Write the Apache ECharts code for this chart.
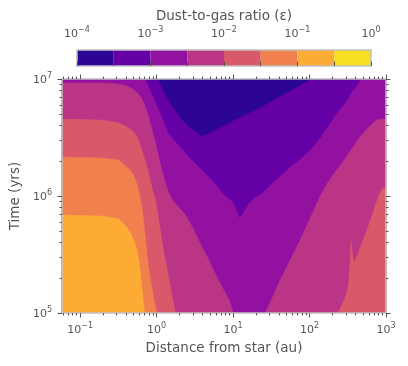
<!DOCTYPE html>
<html>
<head>
<meta charset="utf-8">
<script src="https://cdn.jsdelivr.net/npm/echarts@6/dist/echarts.min.js"></script>
<style>
html, body { margin: 0; padding: 0; background: #fff; }
#chart { width: 408px; height: 366px; }
</style>
</head>
<body>
<div id="chart"></div>
<script>
// contour levels (dust-to-gas ratio) and the plasma colour of each band
var levels = [1e-4, 3.162e-4, 1e-3, 3.162e-3, 1e-2, 3.162e-2, 0.1, 0.3162, 1];
var levelColors = ['#2d0595', '#6500a7', '#9311a1', '#bb3587', '#d9596a', '#f0804e', '#fcab34', '#f7de23'];
var cbarLabels = [1e-4, 1e-3, 1e-2, 1e-1, 1];

var xMajor = [0.1, 1, 10, 100, 1000];
var xMinor = [0.06, 0.07, 0.08, 0.09,
    0.2, 0.3, 0.4, 0.5, 0.6, 0.7, 0.8, 0.9,
    2, 3, 4, 5, 6, 7, 8, 9,
    20, 30, 40, 50, 60, 70, 80, 90,
    200, 300, 400, 500, 600, 700, 800, 900];
var yMajor = [1e5, 1e6, 1e7];
var yMinor = [2e5, 3e5, 4e5, 5e5, 6e5, 7e5, 8e5, 9e5,
    2e6, 3e6, 4e6, 5e6, 6e6, 7e6, 8e6, 9e6];

// contour outlines, points are [distance (au), time (yrs)]
var bandBase = [[0.058, 1e5], [1000, 1e5], [1000, 1e7], [0.058, 1e7]];
var innerGe3e3 = [[0.058, 9.25e6], [0.186, 9.25e6], [0.32, 9.06e6], [0.406, 8.71e6], [0.487, 8.22e6],
    [0.582, 7.45e6], [0.657, 6.62e6], [0.719, 5.65e6], [0.787, 4.73e6], [0.861, 3.81e6], [0.97, 2.84e6],
    [1.06, 2.2e6], [1.16, 1.7e6], [1.31, 1.29e6], [1.43, 1.08e6], [1.62, 9.25e5], [1.94, 8.05e5],
    [2.39, 6.88e5], [3.04, 5.22e5], [3.75, 3.89e5], [4.62, 3.01e5], [5.53, 2.33e5], [6.63, 1.84e5],
    [7.94, 1.48e5], [8.95, 1.27e5], [10.1, 1e5], [0.058, 1e5]];
var innerGe1e2 = [[0.058, 4.55e6], [0.186, 4.46e6], [0.237, 4.38e6], [0.32, 4.21e6], [0.394, 3.96e6],
    [0.472, 3.66e6], [0.532, 3.39e6], [0.582, 3.01e6], [0.637, 2.52e6], [0.719, 1.95e6], [0.811, 1.45e6],
    [0.887, 1.12e6], [0.97, 9.25e5], [1.09, 5.65e5], [1.23, 3.45e5], [1.39, 2.24e5], [1.57, 1.48e5],
    [1.77, 1e5], [0.058, 1e5]];
var innerGe3e2 = [[0.058, 2.15e6], [0.186, 2.11e6], [0.237, 2.07e6], [0.32, 2.03e6], [0.394, 1.8e6],
    [0.458, 1.64e6], [0.517, 1.43e6], [0.565, 1.22e6], [0.6, 1.02e6], [0.637, 8.38e5], [0.677, 6.23e5],
    [0.719, 4.21e5], [0.763, 2.84e5], [0.835, 1.92e5], [0.914, 1.37e5], [1.0, 1e5], [0.058, 1e5]];
var innerGe1e1 = [[0.058, 6.88e5], [0.186, 6.75e5], [0.237, 6.62e5], [0.32, 6.36e5], [0.394, 5.55e5],
    [0.458, 4.83e5], [0.517, 4.05e5], [0.565, 3.26e5], [0.6, 2.52e5], [0.637, 1.73e5], [0.677, 1.22e5],
    [0.698, 1e5], [0.058, 1e5]];
var outerGe3e3 = [[26.4, 1e5], [32.5, 1.34e5], [39, 1.77e5], [54.2, 2.73e5], [75.4, 4.21e5], [105, 6.75e5],
    [142, 1.04e6], [175, 1.32e6], [216, 1.6e6], [291, 2.07e6], [370, 2.62e6], [471, 3.26e6], [564, 3.74e6],
    [655, 4.12e6], [761, 4.46e6], [857, 4.55e6], [939, 4.55e6], [1000, 4.46e6], [1000, 1e5]];
var outerGe1e2 = [[236, 1e5], [266, 1.17e5], [291, 1.34e5], [318, 1.64e5], [328, 1.95e5], [338, 2.57e5],
    [343, 3.32e5], [349, 4.12e5], [359, 3.45e5], [370, 2.95e5], [381, 2.73e5], [418, 3.07e5], [485, 3.96e5],
    [564, 5.12e5], [655, 6.75e5], [738, 8.55e5], [808, 1.02e6], [857, 1.1e6], [912, 1.17e6], [1000, 1.19e6],
    [1000, 1e5]];
var midLe1e3 = [[0.719, 1e7], [0.787, 8.71e6], [0.887, 7.29e6], [1.0, 6.11e6], [1.13, 5.12e6], [1.27, 4.21e6],
    [1.43, 3.45e6], [1.94, 2.73e6], [2.61, 2.2e6], [3.53, 1.8e6], [4.76, 1.48e6], [6.06, 1.24e6],
    [7.48, 1.04e6], [8.68, 9.62e5], [10.1, 8.89e5], [11.0, 7.75e5], [12.1, 6.62e5], [12.8, 6.75e5],
    [14.0, 7.59e5], [15.8, 8.55e5], [18.9, 9.62e5], [23.4, 1.04e6], [30.6, 1.24e6], [39, 1.43e6],
    [55.8, 1.77e6], [75.4, 2.07e6], [105, 2.52e6], [137, 3.13e6], [175, 3.96e6], [222, 5.02e6],
    [291, 6.24e6], [370, 8.05e6], [430, 9.06e6], [471, 1e7]];
var midLe3e4 = [[1.03, 1e7], [1.13, 9.06e6], [1.27, 7.74e6], [1.43, 6.62e6], [1.67, 5.65e6], [1.94, 4.92e6],
    [2.25, 4.38e6], [2.61, 3.96e6], [3.04, 3.66e6], [3.53, 3.39e6], [3.86, 3.26e6], [4.23, 3.32e6],
    [5.88, 3.66e6], [9.22, 4.29e6], [13.2, 4.83e6], [19.5, 5.43e6], [28.8, 6.24e6], [41.4, 7.16e6],
    [55.8, 7.89e6], [75.4, 8.89e6], [105, 1e7]];

// drawing order: outline, colour band index
var regions = [
    [bandBase, 2], [innerGe3e3, 3], [innerGe1e2, 4], [innerGe3e2, 5], [innerGe1e1, 6],
    [outerGe3e3, 3], [outerGe1e2, 4], [midLe1e3, 1], [midLe3e4, 0]
];

var chart = echarts.init(document.getElementById('chart'));

var textGray = '#555555';
var rich = {
    b: { fontSize: 11, color: textGray, lineHeight: 14, verticalAlign: 'bottom' },
    s: { fontSize: 8, color: textGray, lineHeight: 8, verticalAlign: 'top' }
};
function pow10(v) {
    var e = Math.round(Math.log10(v));
    return '{b|10}{s|' + (e < 0 ? '\u2212' + (-e) : e) + '}';
}

function tickAxis(type, pos, ticks, len, withLine, withLabels, extra) {
    var ax = {
        type: 'log', gridIndex: 0, position: pos, z: 10,
        axisLine: { show: withLine, lineStyle: { color: '#c0c0c0', width: 1.5 } },
        axisTick: { show: true, length: len, customValues: ticks, lineStyle: { color: '#555', width: 1 } },
        axisLabel: withLabels ? { customValues: withLabels, formatter: pow10, rich: rich, margin: type === 'x' ? 9 : 10 } : { show: false },
        splitLine: { show: false }
    };
    if (type === 'x') { ax.min = 0.058; ax.max = 1000; } else { ax.min = 1e5; ax.max = 1e7; }
    return Object.assign(ax, extra || {});
}

var nameStyle = { fontSize: 13.5, color: textGray };

chart.setOption({
    animation: false,
    textStyle: { fontFamily: 'DejaVu Sans' },
    grid: [
        { left: 61, right: 22, top: 79, bottom: 53 },
        { left: 77, right: 37, top: 50, height: 16 }
    ],
    xAxis: [
        tickAxis('x', 'bottom', xMajor, 4.5, true, xMajor, {
            name: 'Distance from star (au)', nameLocation: 'middle', nameGap: 28, nameTextStyle: nameStyle
        }),
        tickAxis('x', 'bottom', xMinor, 2.5, false, null),
        tickAxis('x', 'top', xMajor, 4.5, true, null),
        tickAxis('x', 'top', xMinor, 2.5, false, null),
        {
            type: 'log', gridIndex: 1, position: 'top', min: 1e-4, max: 1, z: 10,
            axisLine: { show: false },
            axisTick: { show: true, length: 4.5, customValues: levels, lineStyle: { color: '#555', width: 1 } },
            axisLabel: { customValues: cbarLabels, formatter: pow10, rich: rich, margin: 10 },
            splitLine: { show: false },
            name: 'Dust-to-gas ratio (\u03b5)', nameLocation: 'middle', nameGap: 27, nameTextStyle: nameStyle
        }
    ],
    yAxis: [
        tickAxis('y', 'left', yMajor, 4.5, true, yMajor, {
            name: 'Time (yrs)', nameLocation: 'middle', nameGap: 36, nameTextStyle: nameStyle
        }),
        tickAxis('y', 'left', yMinor, 2.5, false, null),
        tickAxis('y', 'right', yMajor, 4.5, true, null),
        tickAxis('y', 'right', yMinor, 2.5, false, null),
        { type: 'value', gridIndex: 1, min: 0, max: 1, show: false }
    ],
    series: [
        {
            type: 'custom',
            xAxisIndex: 0, yAxisIndex: 0,
            clip: true,
            data: regions.map(function (r, i) { return [r[0][0][0], r[0][0][1], i]; }),
            renderItem: function (params, api) {
                var r = regions[params.dataIndex];
                return {
                    type: 'polygon',
                    shape: { points: r[0].map(function (p) { return api.coord(p); }) },
                    style: { fill: levelColors[r[1]], stroke: levelColors[r[1]], lineWidth: 0.5 }
                };
            }
        },
        {
            type: 'custom',
            xAxisIndex: 4, yAxisIndex: 4,
            data: levelColors.map(function (c, i) { return [levels[i], levels[i + 1], i]; }),
            renderItem: function (params, api) {
                var a = api.coord([api.value(0), 0]);
                var b = api.coord([api.value(1), 1]);
                return {
                    type: 'rect',
                    shape: { x: a[0], y: b[1], width: b[0] - a[0], height: a[1] - b[1] },
                    style: { fill: levelColors[api.value(2)] }
                };
            }
        },
        {
            type: 'custom',
            xAxisIndex: 4, yAxisIndex: 4,
            z: 5,
            data: [[levels[0], levels[levels.length - 1]]],
            renderItem: function (params, api) {
                var a = api.coord([api.value(0), 0]);
                var b = api.coord([api.value(1), 1]);
                return {
                    type: 'rect',
                    shape: { x: a[0], y: b[1], width: b[0] - a[0], height: a[1] - b[1] },
                    style: { fill: null, stroke: '#c0c0c0', lineWidth: 1.5 }
                };
            }
        }
    ]
});
</script>
</body>
</html>
